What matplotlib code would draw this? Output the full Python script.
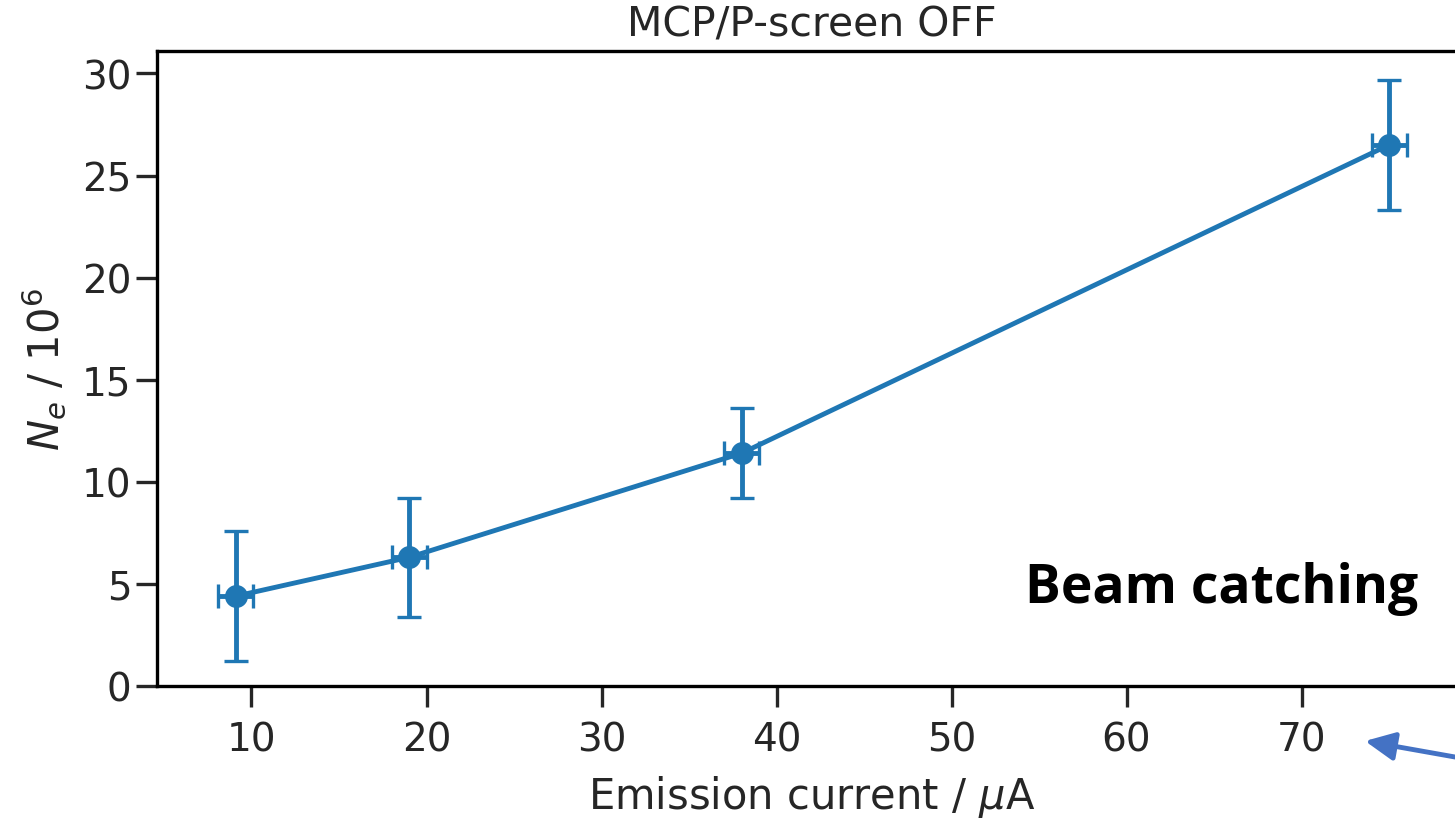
import numpy as np
import matplotlib
matplotlib.use("Agg")
import matplotlib.pyplot as plt

plt.rcParams['font.family'] = ['DejaVu Sans']

current = [9.1, 19.0, 38.0, 75.0]       # uA
current_err = [1.0, 1.0, 1.0, 1.0]
ne = [4.4, 6.3, 11.4, 26.5]              # 1e6
ne_err = [3.2, 2.9, 2.2, 3.2]
xticks = [10, 20, 30, 40, 50, 60, 70]
yticks = [0, 5, 10, 15, 20, 25, 30]

fig = plt.figure(figsize=(14.55, 8.2), dpi=100)
# the original is cropped on the right, so the axes run past the edge
ax = fig.add_axes([0.1079, 0.1622, 0.8997, 0.7744])

ax.errorbar(current, ne, yerr=ne_err, xerr=current_err, fmt='-o',
            color='#1f77b4', lw=3.5, elinewidth=3.5, ms=15.5,
            capsize=8.8, capthick=2.4)

ax.set_xlim(4.6, 79.4)
ax.set_ylim(0, 31.1)
ax.set_xticks(xticks)
ax.set_yticks(yticks)
ax.tick_params(labelsize=28, length=15, width=2.4, colors='#262626')
ax.tick_params(axis='x', pad=9.5)
for s in ax.spines.values():
    s.set_linewidth(2.4)
ax.set_xlabel(r'Emission current / $\mu$A', fontsize=30, color='#262626',
              labelpad=11)
ax.set_ylabel(r'$N_e$ / $10^6$', fontsize=30, color='#262626', labelpad=10)
ax.set_title('MCP/P-screen OFF', fontsize=29.5, color='#262626', pad=11)

fig.text(1222 / 1455, 1 - 603 / 820, 'Beam catching', family='Open Sans',
         weight='bold', fontsize=38.5, ha='center', va='baseline')

ax.annotate('', xy=(1365 / 1455, 1 - 742 / 820), xycoords='figure fraction',
            xytext=(1500 / 1455, 1 - 766 / 820), textcoords='figure fraction',
            arrowprops=dict(arrowstyle='-|>,head_length=1.8,head_width=0.86',
                            color='#4472c4', lw=3.5, shrinkA=0, shrinkB=0),
            annotation_clip=False)

fig.savefig('out.png', dpi=100)
